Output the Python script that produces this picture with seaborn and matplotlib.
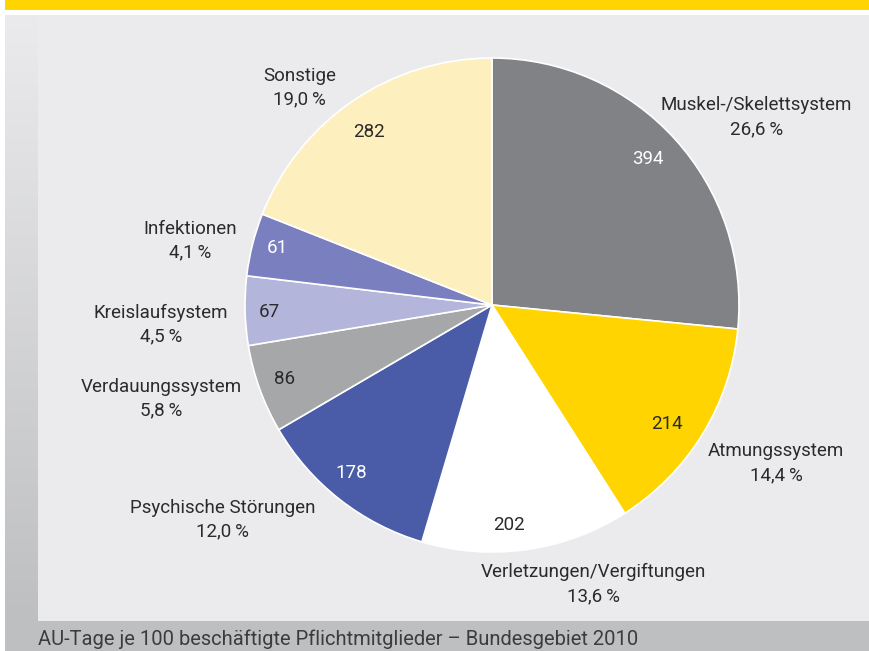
import numpy as np
import matplotlib
matplotlib.use("Agg")
import matplotlib.pyplot as plt
from matplotlib.patches import Rectangle
import seaborn as sns

# AU-Tage je 100 beschäftigte Pflichtmitglieder nach Krankheitsarten
categories = ["Muskel-/Skelettsystem", "Atmungssystem", "Verletzungen/Vergiftungen",
              "Psychische Störungen", "Verdauungssystem", "Kreislaufsystem",
              "Infektionen", "Sonstige"]
values = [394, 214, 202, 178, 86, 67, 61, 282]
shares = ["26,6", "14,4", "13,6", "12,0", "5,8", "4,5", "4,1", "19,0"]

colors = ["#818285", "#FFD400", "#FFFFFF", "#4A5CA8",
          "#A6A7A9", "#B3B5DB", "#7A7FBF", "#FEF0BE"]
value_colors = ["white", "#2b2b2b", "#2b2b2b", "white",
                "#2b2b2b", "#2b2b2b", "white", "#2b2b2b"]

# label layout (pie data coords, radius = 1)
value_pos = [(0.63, 0.59), (0.71, -0.48), (0.07, -0.89), (-0.57, -0.68),
             (-0.84, -0.30), (-0.90, -0.03), (-0.87, 0.23), (-0.50, 0.70)]
name_pos = [(1.07, 0.76), (1.15, -0.64), (0.41, -1.13), (-1.09, -0.87),
            (-1.34, -0.38), (-1.34, -0.08), (-1.22, 0.26), (-0.78, 0.88)]

caption = "AU-Tage je 100 beschäftigte Pflichtmitglieder – Bundesgebiet 2010"

sns.set_theme(style="white")
plt.rcParams["font.family"] = ["Liberation Sans Narrow", "Roboto", "DejaVu Sans"]

W, H = 869, 651
fig = plt.figure(figsize=(W / 100, H / 100), dpi=100)
fig.patch.set_facecolor("white")

# background frame
bg = fig.add_axes([0, 0, 1, 1])
bg.set_xlim(0, W)
bg.set_ylim(H, 0)
bg.axis("off")
bg.add_patch(Rectangle((5, 0), W - 5, 9.5, color="#FFD400", lw=0))
bg.add_patch(Rectangle((5, 15), W - 5, H - 15, color="#BEBFC1", lw=0))
grad = np.linspace(0, 1, 256).reshape(-1, 1)
bg.imshow(grad, cmap=matplotlib.colors.LinearSegmentedColormap.from_list(
    "g", ["#EBEBED", "#BEBFC1"]), extent=(5, 38, 621, 15), aspect="auto", zorder=1)
bg.add_patch(Rectangle((38, 15), W - 38, 606, color="#EBEBED", lw=0, zorder=2))
bg.text(38, 645, caption, fontsize=14.5, color="#3c3c3c", va="baseline",
        ha="left", zorder=3)

# pie
cx, cy, r = 492, 305, 247
ax = fig.add_axes([(cx - r) / W, (H - cy - r) / H, 2 * r / W, 2 * r / H])
ax.pie(values, colors=colors, startangle=90, counterclock=False,
       wedgeprops=dict(edgecolor="white", linewidth=1.2), radius=1)
ax.set_xlim(-1, 1)
ax.set_ylim(-1, 1)
ax.set_aspect("auto")
ax.axis("off")

for cat, v, s, vc, vp, npos in zip(categories, values, shares, value_colors,
                                   value_pos, name_pos):
    ax.text(vp[0], vp[1], str(v), color=vc, fontsize=13.5, ha="center", va="center")
    ax.text(npos[0], npos[1], f"{cat}\n{s}\u2009%", color="#2b2b2b", fontsize=13.5,
            ha="center", va="center", linespacing=1.4, clip_on=False)

fig.savefig("out.png", dpi=100)
